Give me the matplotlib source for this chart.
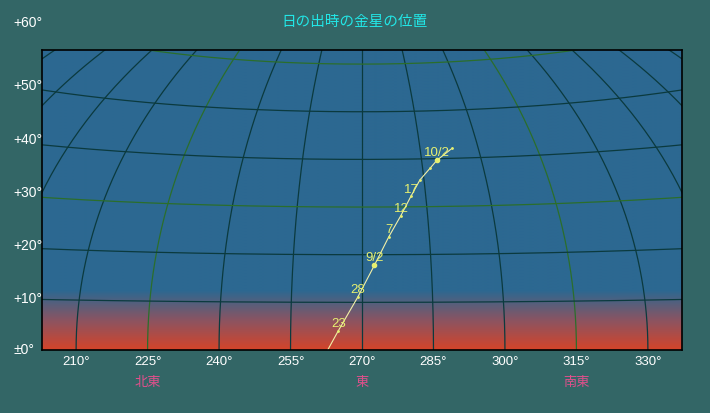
import numpy as np
import matplotlib.pyplot as plt
from matplotlib import font_manager
from matplotlib.colors import LinearSegmentedColormap

# Venus at sunrise: azimuth / altitude (deg)
dates = ['8/18', '23', '28', '9/2', '7', '12', '17', '22', '27', '10/2', '10/7']
venus_az = [260.8, 265.0, 269.1, 272.7, 276.0, 278.9, 281.5, 284.0, 286.8, 288.9, 293.3]
venus_alt = [-3.6, 4.0, 11.1, 17.8, 23.8, 28.2, 32.2, 35.6, 38.0, 39.7, 42.1]
shown = [False, True, True, True, True, True, True, False, False, True, False]
month_start = ['9/2', '10/2']

az_ticks = [210, 225, 240, 255, 270, 285, 300, 315, 330]
az_lines = list(range(135, 406, 15))
alt_lines = [10, 20, 30, 40, 50, 60, 70, 80]
alt_labels = ['+60°', '+50°', '+40°', '+30°', '+20°', '+10°', '±0°']
directions = ['北東', '東', '南東']
direction_az = [225, 270, 315]

CENTER = 270.0


def aitoff(az, alt):
    lam = np.radians(np.asarray(az, float) - CENTER)
    phi = np.radians(np.asarray(alt, float))
    alpha = np.arccos(np.cos(phi) * np.cos(lam / 2))
    s = np.sinc(alpha / np.pi)
    x = 2 * np.cos(phi) * np.sin(lam / 2) / s
    y = np.sin(phi) / s
    return CENTER + np.degrees(x), np.degrees(y)


names = {f.name for f in font_manager.fontManager.ttflist}
num_font = 'Liberation Sans Narrow' if 'Liberation Sans Narrow' in names else 'Liberation Sans'
jp_font = ['Noto Sans CJK JP', 'DejaVu Sans']

bg = '#336666'
fig = plt.figure(figsize=(7.1, 4.13), dpi=100, facecolor=bg)
ax = fig.add_axes([42 / 710, 63 / 413, 640 / 710, 300 / 413])

scale = 4.765  # px per degree
xlim = (CENTER - 320 / scale, CENTER + 320 / scale)
ytop = 300 / scale
ax.set_xlim(*xlim)
ax.set_ylim(0, ytop)

# sky gradient: blue above, red glow near the horizon
sky = LinearSegmentedColormap.from_list('sky', ['#d4442a', '#8a5462', '#2c6891'])
gy = np.linspace(0, ytop, 400)
grad = np.clip(gy / 12.5, 0, 1)[:, None]
ax.imshow(grad, cmap=sky, vmin=0, vmax=1, origin='lower', aspect='auto',
          extent=[xlim[0], xlim[1], 0, ytop], zorder=0)

dark = '#0b3a3e'
green = '#2b6e2b'
alts = np.linspace(0, 90, 200)
for a in az_lines:
    x, y = aitoff(np.full_like(alts, a), alts)
    c = green if a % 90 == 45 else dark
    ax.plot(x, y, color=c, lw=0.9, zorder=2)
azs = np.linspace(120, 420, 400)
for h in alt_lines:
    x, y = aitoff(azs, np.full_like(azs, h))
    c = green if h % 30 == 0 else dark
    ax.plot(x, y, color=c, lw=0.9, zorder=2)

# Venus path
vx, vy = aitoff(venus_az, venus_alt)
ax.plot(vx, vy, color='#f2f0a8', lw=0.8, zorder=3)
ax.plot(vx, vy, ls='none', marker='.', ms=2, color='#e6f070', zorder=4)
for d, px, py, s in zip(dates, vx, vy, shown):
    if d in month_start:
        ax.plot(px, py, 'o', ms=3, color='#e6f070', zorder=4)
    if s:
        ax.annotate(d, (px, py), xytext=(0, 0.5), textcoords='offset points',
                    ha='center', va='bottom', color='#e6f070', fontsize=9.5,
                    family=num_font, zorder=5)

for sp in ax.spines.values():
    sp.set_color('black')
    sp.set_linewidth(1.2)
    sp.set_zorder(6)

ax.set_xticks(az_ticks)
ax.set_xticklabels([f'{a}°' for a in az_ticks], color='white', fontsize=9.5,
                   family=num_font)
ax.tick_params(axis='x', length=0, pad=4)
ax.set_yticks([])

# altitude labels on the left margin
label_px = [23, 86, 140, 193, 246, 299, 350]
for t, py in zip(alt_labels, label_px):
    fig.text(13 / 710, 1 - py / 413, t, ha='left', va='center', color='white',
             fontsize=10, family=num_font)

for d, a in zip(directions, direction_az):
    ax.text(a, -0.107, d, transform=ax.get_xaxis_transform(), ha='center',
            va='center', color='#e0508c', fontsize=9.5, family=jp_font)

fig.text(354 / 710, 1 - 22 / 413, '日の出時の金星の位置', ha='center', va='center',
         color='#22e6e6', fontsize=10.5, family=jp_font)

fig.savefig('out.png', dpi=100, facecolor=bg)
